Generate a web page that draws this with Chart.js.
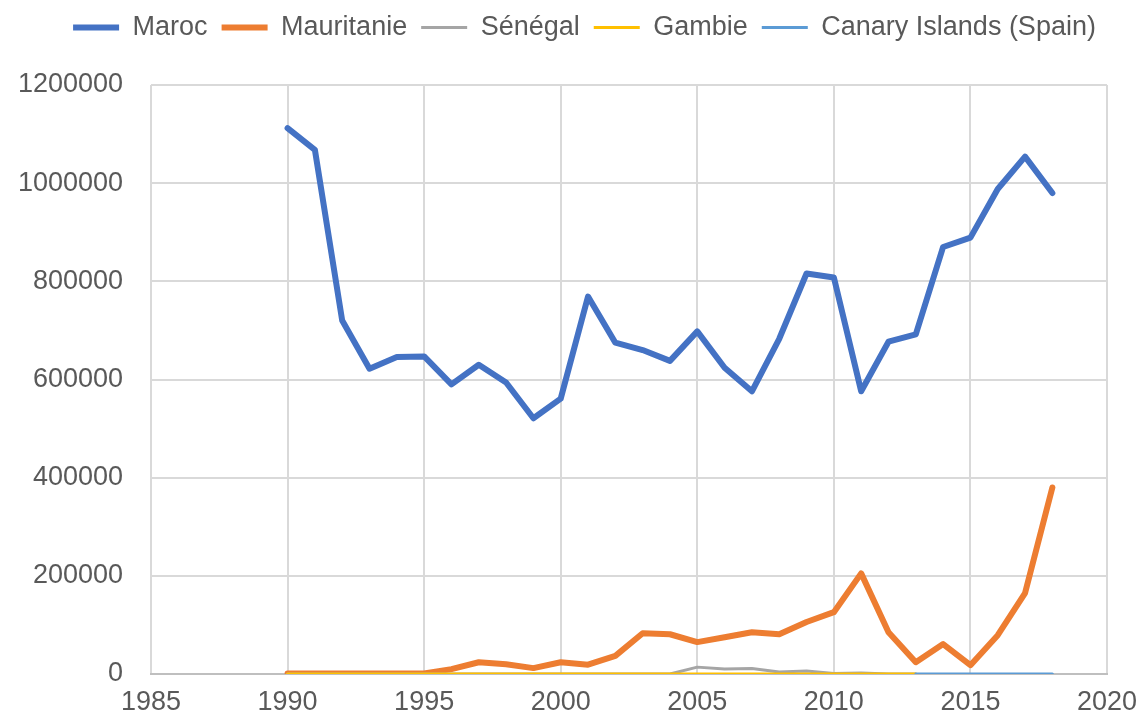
<!DOCTYPE html>
<html>
<head>
<meta charset="utf-8">
<title>Maroc, Mauritanie, Sénégal, Gambie, Canary Islands</title>
<script src="https://cdn.jsdelivr.net/npm/chart.js@4"></script>
<style>
  html, body { margin: 0; padding: 0; background: #fff; }
  #wrap { width: 1142px; height: 724px; }
</style>
</head>
<body>
<div id="wrap"><canvas id="chart" width="1142" height="724"></canvas></div>
<script>
// Data
const years = [1990, 1991, 1992, 1993, 1994, 1995, 1996, 1997, 1998, 1999,
               2000, 2001, 2002, 2003, 2004, 2005, 2006, 2007, 2008, 2009,
               2010, 2011, 2012, 2013, 2014, 2015, 2016, 2017, 2018];

const maroc = [1112000, 1068000, 720000, 622000, 646000, 647000, 590000, 630000, 594000, 521000,
               561000, 769000, 675000, 660000, 638000, 698000, 624000, 576000, 683000, 816000,
               808000, 576000, 677000, 692000, 870000, 889000, 988000, 1054000, 980000];

const mauritanie = [1000, 1000, 1000, 1000, 1000, 1000, 10000, 24000, 20000, 12000,
                    24000, 19000, 37000, 83000, 81000, 65000, 75000, 85000, 81000, 106000,
                    126000, 205000, 85000, 24000, 61000, 18000, 79000, 165000, 380000];

const senegal = [0, 0, 0, 0, 0, 0, 0, 0, 0, 0,
                 0, 0, 0, 0, 0, 14000, 10000, 11000, 4000, 6000,
                 1000, 2000, 0, 0, null, null, null, null, null];

const gambie = [0, 0, 0, 0, 0, 0, 0, 0, 0, 0,
                0, 0, 0, 0, 0, 0, 0, 0, 0, 0,
                0, 0, 0, 0, null, null, null, null, null];

const canary = [null, null, null, null, null, null, null, null, null, null,
                null, null, null, null, null, null, null, null, null, null,
                null, null, null, 0, 0, 0, 0, 0, 0];

const xTicks = { min: 1985, max: 2020, step: 5 };
const yTicks = { min: 0, max: 1200000, step: 200000 };

function points(values) {
    return years.map((year, i) => ({ x: year, y: values[i] }));
}

const textColor = '#595959';
const gridColor = '#d9d9d9';
const fontFamily = '"Liberation Sans", Arial, sans-serif';

// Excel draws the last series on top, so the order numbers go down
const series = [
    { label: 'Maroc', values: maroc, color: '#4472C4', width: 6, order: 5 },
    { label: 'Mauritanie', values: mauritanie, color: '#ED7D31', width: 6, order: 4 },
    { label: 'Sénégal', values: senegal, color: '#A5A5A5', width: 3, order: 3 },
    { label: 'Gambie', values: gambie, color: '#FFC000', width: 3, order: 2 },
    { label: 'Canary Islands (Spain)', values: canary, color: '#5B9BD5', width: 3, order: 1 }
];

// extra room under the legend, and nudge it right like in the reference
const legendTweak = {
    id: 'legendTweak',
    beforeInit(chart) {
        const legend = chart.legend;
        const fit = legend.fit;
        legend.fit = function () {
            fit.call(this);
            this.height += 34;
        };
        const draw = legend.draw;
        legend.draw = function () {
            this.ctx.save();
            this.ctx.translate(31, 0);
            draw.call(this);
            this.ctx.restore();
        };
    }
};

new Chart(document.getElementById('chart'), {
    type: 'line',
    data: {
        datasets: series.map(s => ({
            label: s.label,
            data: points(s.values),
            borderColor: s.color,
            backgroundColor: s.color,
            borderWidth: s.width,
            borderCapStyle: 'round',
            borderJoinStyle: 'round',
            pointRadius: 0,
            pointHoverRadius: 0,
            pointStyle: 'line',
            tension: 0,
            spanGaps: false,
            order: s.order
        }))
    },
    options: {
        responsive: false,
        animation: false,
        layout: { padding: { left: 0, right: 35, top: 0, bottom: 0 } },
        plugins: {
            legend: {
                position: 'top',
                labels: {
                    usePointStyle: true,
                    pointStyleWidth: 46,
                    padding: 14,
                    color: textColor,
                    font: { family: fontFamily, size: 27 },
                    sort: (a, b) => a.datasetIndex - b.datasetIndex
                }
            },
            tooltip: { enabled: false }
        },
        scales: {
            x: {
                type: 'linear',
                min: xTicks.min,
                max: xTicks.max,
                afterFit: axis => { axis.height = 50; axis.paddingRight = 0; },
                ticks: {
                    stepSize: xTicks.step,
                    color: textColor,
                    font: { family: fontFamily, size: 27 },
                    padding: 12,
                    callback: v => String(v)
                },
                grid: { color: gridColor, lineWidth: 2, drawTicks: false },
                border: { color: '#bfbfbf', width: 2 }
            },
            y: {
                min: yTicks.min,
                max: yTicks.max,
                afterFit: axis => { axis.width = 151; },
                ticks: {
                    stepSize: yTicks.step,
                    color: textColor,
                    font: { family: fontFamily, size: 27 },
                    padding: 28,
                    callback: v => String(v)
                },
                grid: { color: gridColor, lineWidth: 2, drawTicks: false },
                border: { display: false }
            }
        }
    },
    plugins: [legendTweak]
});
</script>
</body>
</html>
